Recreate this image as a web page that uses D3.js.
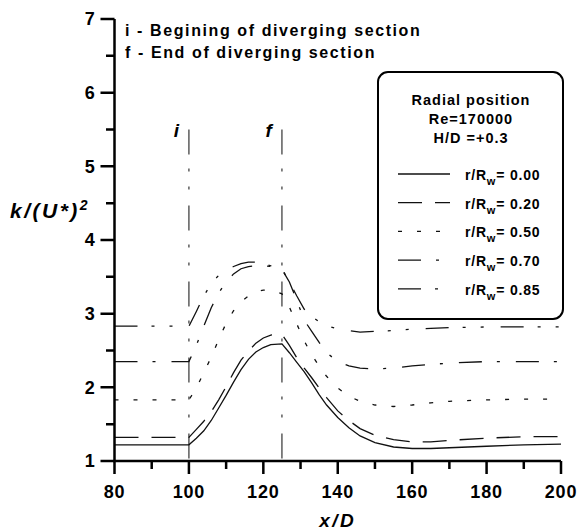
<!DOCTYPE html>
<html>
<head>
<meta charset="utf-8">
<script src="https://cdn.jsdelivr.net/npm/d3@7"></script>
<style>
  body { margin: 0; background: #fff; }
  svg text { font-family: "Liberation Sans", Arial, sans-serif; font-weight: bold; fill: #000; }
</style>
</head>
<body>
<div id="chart"></div>
<script>
// x/D stations
var xd = [80, 100, 102, 104, 106, 108, 110, 112, 114, 116, 118, 120, 122, 125, 127, 129, 131, 133, 135, 137, 140, 143, 146, 150, 155, 160, 165, 170, 180, 190, 200];

// k/(U*)^2 at each station, one array per radial position
var k000 = [1.22, 1.22, 1.31, 1.41, 1.55, 1.72, 1.89, 2.07, 2.24, 2.38, 2.48, 2.54, 2.58, 2.59, 2.47, 2.34, 2.21, 2.06, 1.90, 1.76, 1.59, 1.45, 1.34, 1.25, 1.19, 1.17, 1.17, 1.18, 1.20, 1.22, 1.23];
var k020 = [1.32, 1.32, 1.43, 1.54, 1.67, 1.83, 2.01, 2.20, 2.37, 2.49, 2.60, 2.67, 2.71, 2.72, 2.57, 2.40, 2.26, 2.13, 1.99, 1.86, 1.68, 1.55, 1.44, 1.35, 1.29, 1.26, 1.26, 1.28, 1.31, 1.33, 1.33];
var k050 = [1.83, 1.83, 1.99, 2.20, 2.41, 2.65, 2.87, 3.04, 3.16, 3.24, 3.30, 3.32, 3.32, 3.27, 3.09, 2.86, 2.63, 2.44, 2.29, 2.15, 1.99, 1.88, 1.81, 1.76, 1.74, 1.76, 1.79, 1.81, 1.83, 1.84, 1.84];
var k070 = [2.35, 2.35, 2.57, 2.83, 3.08, 3.28, 3.43, 3.54, 3.61, 3.64, 3.65, 3.65, 3.64, 3.60, 3.43, 3.18, 2.91, 2.76, 2.61, 2.47, 2.35, 2.29, 2.26, 2.25, 2.26, 2.29, 2.31, 2.33, 2.35, 2.35, 2.35];
var k085 = [2.83, 2.83, 3.03, 3.24, 3.41, 3.52, 3.59, 3.64, 3.68, 3.70, 3.70, 3.68, 3.65, 3.61, 3.43, 3.24, 3.06, 2.96, 2.89, 2.84, 2.79, 2.77, 2.75, 2.76, 2.77, 2.79, 2.80, 2.81, 2.82, 2.82, 2.82];

var radii = ['0.00', '0.20', '0.50', '0.70', '0.85'];
var dashes = ['none', '24,13', '4,15', '23,15,3,16', '23,14,3,15,3,17'];
var sectionMarks = [{x: 100, label: 'i'}, {x: 125, label: 'f'}];
var notes = ['i - Begining of diverging section', 'f - End of diverging section'];
var legendTitle = ['Radial position', 'Re=170000', 'H/D =+0.3'];
var xMajor = [80, 100, 120, 140, 160, 180, 200];
var xMinor = [90, 110, 130, 150, 170, 190];
var yMajor = [1, 2, 3, 4, 5, 6, 7];
var yMinor = [1.5, 2.5, 3.5, 4.5, 5.5, 6.5];

var series = [k000, k020, k050, k070, k085];

var width = 579, height = 531;
var margin = {top: 19, right: 18, bottom: 70, left: 114.5};

var svg = d3.select('#chart').append('svg')
  .attr('width', width)
  .attr('height', height);

var x = d3.scaleLinear()
  .domain([80, 200])
  .range([margin.left, width - margin.right]);

var y = d3.scaleLinear()
  .domain([1, 7])
  .range([height - margin.bottom, margin.top]);

// section markers (dash-dot-dot verticals)
sectionMarks.forEach(function(m) {
  svg.append('line')
    .attr('x1', x(m.x)).attr('x2', x(m.x))
    .attr('y1', y(5.5)).attr('y2', y(1))
    .attr('stroke', '#333')
    .attr('stroke-width', 1.2)
    .attr('stroke-dasharray', '25,14,3,15,3,16');
  svg.append('text')
    .attr('x', x(m.x) - 10)
    .attr('y', y(5.5) + 7)
    .attr('text-anchor', 'end')
    .style('font-size', '19px')
    .style('font-style', 'italic')
    .text(m.label);
});

var line = d3.line()
  .x(function(d, i) { return x(xd[i]); })
  .y(function(d) { return y(d); });

var curves = svg.append('g')
  .attr('fill', 'none')
  .attr('stroke', '#111')
  .attr('stroke-width', 1.3);

series.forEach(function(s, i) {
  curves.append('path')
    .datum(s)
    .attr('stroke-dasharray', dashes[i])
    .attr('d', line);
});

// axes: one path for the L-shaped frame plus one for all ticks
var x0 = x(80), y0 = y(1);
var frame = d3.path();
frame.moveTo(x0, y(7));
frame.lineTo(x0, y0);
frame.lineTo(x(200), y0);

var tickPath = d3.path();
yMajor.forEach(function(d) { tickPath.moveTo(x0 - 14, y(d)); tickPath.lineTo(x0, y(d)); });
yMinor.forEach(function(d) { tickPath.moveTo(x0 - 8.5, y(d)); tickPath.lineTo(x0, y(d)); });
xMajor.forEach(function(d) { tickPath.moveTo(x(d), y0); tickPath.lineTo(x(d), y0 + 13); });
xMinor.forEach(function(d) { tickPath.moveTo(x(d), y0); tickPath.lineTo(x(d), y0 + 8); });

svg.append('path')
  .attr('d', frame.toString())
  .attr('fill', 'none')
  .attr('stroke', '#000')
  .attr('stroke-width', 2.5);
svg.append('path')
  .attr('d', tickPath.toString())
  .attr('fill', 'none')
  .attr('stroke', '#000')
  .attr('stroke-width', 2.5);

svg.append('g').selectAll('text').data(yMajor).join('text')
  .attr('x', x0 - 19)
  .attr('y', d => y(d))
  .attr('dy', '0.35em')
  .attr('text-anchor', 'end')
  .style('font-size', '18px')
  .style('letter-spacing', '0.8px')
  .text(d3.format('d'));

svg.append('g').selectAll('text').data(xMajor).join('text')
  .attr('x', d => x(d))
  .attr('y', 498)
  .attr('text-anchor', 'middle')
  .style('font-size', '18px')
  .style('letter-spacing', '0.8px')
  .text(d3.format('d'));

// axis titles
svg.append('text')
  .attr('x', (x(80) + x(200)) / 2)
  .attr('y', 527)
  .attr('text-anchor', 'middle')
  .style('font-size', '19px')
  .style('font-style', 'italic')
  .style('letter-spacing', '2.5px')
  .text('x/D');

var yt = svg.append('text')
  .attr('x', 10)
  .attr('y', 218)
  .style('font-size', '21px')
  .style('font-style', 'italic')
  .style('letter-spacing', '2.5px');
yt.append('tspan').text('k/(U*)');
yt.append('tspan').attr('dy', -8).style('font-size', '14px').text('2');

// notes top-left
notes.forEach(function(t, i) {
  svg.append('text')
    .attr('x', 125)
    .attr('y', 36 + i * 22)
    .style('font-size', '16px')
    .style('letter-spacing', '1.6px')
    .text(t);
});

// legend
var lg = svg.append('g');
lg.append('rect')
  .attr('x', 378).attr('y', 72)
  .attr('width', 185).attr('height', 247)
  .attr('rx', 10)
  .attr('fill', '#fff')
  .attr('stroke', '#000')
  .attr('stroke-width', 2);

legendTitle.forEach(function(t, i) {
  lg.append('text')
    .attr('x', 471)
    .attr('y', 105 + i * 19)
    .attr('text-anchor', 'middle')
    .style('font-size', '14.5px')
    .style('letter-spacing', '1px')
    .text(t);
});

radii.forEach(function(r, i) {
  var ly = 174 + i * 28.7;
  lg.append('line')
    .attr('x1', 398).attr('x2', 450)
    .attr('y1', ly).attr('y2', ly)
    .attr('stroke', '#111')
    .attr('stroke-width', 1.3)
    .attr('stroke-dasharray', dashes[i]);
  var t = lg.append('text')
    .attr('x', 465)
    .attr('y', ly + 6)
    .style('font-size', '14px')
    .style('letter-spacing', '0.8px');
  t.append('tspan').text('r/R');
  t.append('tspan').attr('dy', 5).style('font-size', '11px').text('w');
  t.append('tspan').attr('dy', -5).text('= ' + r);
});
</script>
</body>
</html>
